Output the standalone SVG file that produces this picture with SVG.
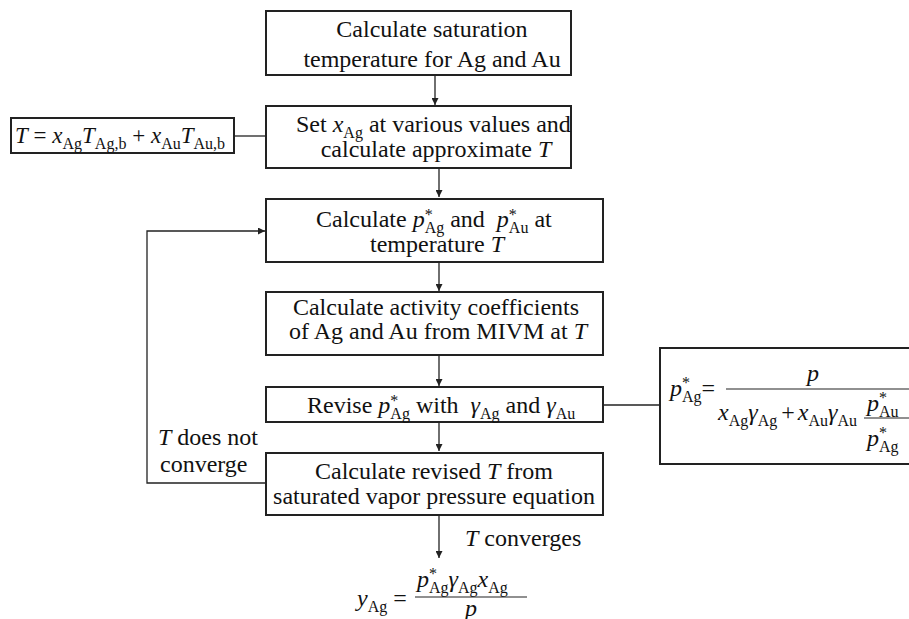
<svg xmlns="http://www.w3.org/2000/svg" width="909" height="619" viewBox="0 0 909 619">
<style>
text{font-family:"Liberation Serif","Times New Roman",serif;font-size:24px;fill:#111}
.i{font-style:italic}
.s{font-size:16px;font-style:normal}
.box{fill:#fff;stroke:#222;stroke-width:2}
.ln{fill:none;stroke:#222;stroke-width:1.3}
.bar{stroke:#222;stroke-width:1.2}
</style>
<defs>
<marker id="ah" viewBox="0 0 10 10" refX="10" refY="5" markerWidth="7" markerHeight="7" markerUnits="userSpaceOnUse" orient="auto">
<path d="M0,0 L10,5 L0,10 z" fill="#222"/>
</marker>
</defs>
<g id="connectors">
<line class="ln" x1="435" y1="75" x2="435" y2="105" marker-end="url(#ah)"/>
<line class="ln" x1="439" y1="168" x2="439" y2="197" marker-end="url(#ah)"/>
<line class="ln" x1="439" y1="262" x2="439" y2="291" marker-end="url(#ah)"/>
<line class="ln" x1="439" y1="355" x2="439" y2="386" marker-end="url(#ah)"/>
<line class="ln" x1="439" y1="422" x2="439" y2="451" marker-end="url(#ah)"/>
<line class="ln" x1="439" y1="515" x2="439" y2="558" marker-end="url(#ah)"/>
<polyline class="ln" points="266,483 147,483 147,231 265,231" marker-end="url(#ah)"/>
<line class="ln" x1="234" y1="136" x2="266" y2="136"/>
<line class="ln" x1="603" y1="405" x2="660" y2="405"/>
</g>
<g id="n1">
<rect class="box" x="266" y="11" width="305" height="64"/>
<text x="432" y="37" text-anchor="middle">Calculate saturation</text>
<text x="432" y="67" text-anchor="middle">temperature for Ag and Au</text>
</g>
<g id="n2">
<rect class="box" x="266" y="106" width="305" height="62"/>
<text x="296" y="132">Set <tspan class="i">x</tspan><tspan class="s" dy="6">Ag</tspan><tspan dy="-6"> at various values and</tspan></text>
<text x="436" y="157" text-anchor="middle">calculate approximate <tspan class="i">T</tspan></text>
</g>
<g id="n3">
<rect class="box" x="266" y="199" width="337" height="63"/>
<text x="316" y="227">Calculate <tspan class="i">p</tspan><tspan class="s" dy="-7">*</tspan><tspan class="s" dx="-8" dy="13">Ag</tspan><tspan dy="-6"> and&#160; </tspan><tspan class="i">p</tspan><tspan class="s" dy="-7">*</tspan><tspan class="s" dx="-8" dy="13">Au</tspan><tspan dy="-6"> at</tspan></text>
<text x="437" y="252" text-anchor="middle">temperature <tspan class="i">T</tspan></text>
</g>
<g id="n4">
<rect class="box" x="266" y="292" width="337" height="63"/>
<text x="436" y="315" text-anchor="middle">Calculate activity coefficients</text>
<text x="438" y="339" text-anchor="middle">of Ag and Au from MIVM at <tspan class="i">T</tspan></text>
</g>
<g id="n5">
<rect class="box" x="266" y="387" width="337" height="35"/>
<text x="307" y="413">Revise <tspan class="i">p</tspan><tspan class="s" dy="-7">*</tspan><tspan class="s" dx="-8" dy="13">Ag</tspan><tspan dy="-6"> with&#160; </tspan><tspan class="i">γ</tspan><tspan class="s" dy="6">Ag</tspan><tspan dy="-6"> and </tspan><tspan class="i">γ</tspan><tspan class="s" dy="6">Au</tspan></text>
</g>
<g id="n6">
<rect class="box" x="266" y="453" width="337" height="62"/>
<text x="434" y="479" text-anchor="middle">Calculate revised <tspan class="i">T</tspan> from</text>
<text x="434" y="504" text-anchor="middle">saturated vapor pressure equation</text>
</g>
<g id="f1">
<rect class="box" x="11" y="118" width="223" height="35"/>
<text x="15" y="143" style="font-size:23px"><tspan class="i">T</tspan> = <tspan class="i">x</tspan><tspan class="s" dy="6">Ag</tspan><tspan class="i" dy="-6">T</tspan><tspan class="s" dy="6">Ag,b</tspan><tspan dy="-6"> + </tspan><tspan class="i">x</tspan><tspan class="s" dy="6">Au</tspan><tspan class="i" dy="-6">T</tspan><tspan class="s" dy="6">Au,b</tspan></text>
</g>
<g id="f2">
<rect class="box" x="660" y="348" width="280" height="116"/>
<text x="670" y="396"><tspan class="i">p</tspan><tspan class="s" dy="-8">*</tspan><tspan class="s" dx="-8" dy="14">Ag</tspan><tspan dy="-6">=</tspan></text>
<line class="bar" x1="726" y1="389" x2="915" y2="389"/>
<text x="807" y="381" class="i">p</text>
<text x="718" y="420"><tspan class="i">x</tspan><tspan class="s" dy="6">Ag</tspan><tspan class="i" dy="-6">γ</tspan><tspan class="s" dy="6">Ag</tspan><tspan dy="-6" dx="-2"> + </tspan><tspan class="i" dx="-3">x</tspan><tspan class="s" dy="6">Au</tspan><tspan class="i" dy="-6">γ</tspan><tspan class="s" dy="6">Au</tspan></text>
<line class="bar" x1="864" y1="418" x2="915" y2="418"/>
<text x="867" y="411"><tspan class="i">p</tspan><tspan class="s" dy="-8">*</tspan><tspan class="s" dx="-8" dy="14">Au</tspan></text>
<text x="867" y="446"><tspan class="i">p</tspan><tspan class="s" dy="-8">*</tspan><tspan class="s" dx="-8" dy="14">Ag</tspan></text>
</g>
<g id="labels">
<text x="158" y="445"><tspan class="i">T</tspan> does not</text>
<text x="160" y="472">converge</text>
<text x="465" y="546"><tspan class="i">T</tspan> converges</text>
</g>
<g id="f3">
<text x="357" y="606"><tspan class="i">y</tspan><tspan class="s" dy="6">Ag</tspan><tspan dy="-6"> =</tspan></text>
<line class="bar" x1="415" y1="597" x2="527" y2="597"/>
<text x="417" y="587"><tspan class="i">p</tspan><tspan class="s" dy="-8">*</tspan><tspan class="s" dx="-8" dy="14">Ag</tspan><tspan class="i" dy="-6">γ</tspan><tspan class="s" dy="6">Ag</tspan><tspan class="i" dy="-6">x</tspan><tspan class="s" dy="6">Ag</tspan></text>
<text x="465" y="616" class="i">p</text>
</g>
</svg>
